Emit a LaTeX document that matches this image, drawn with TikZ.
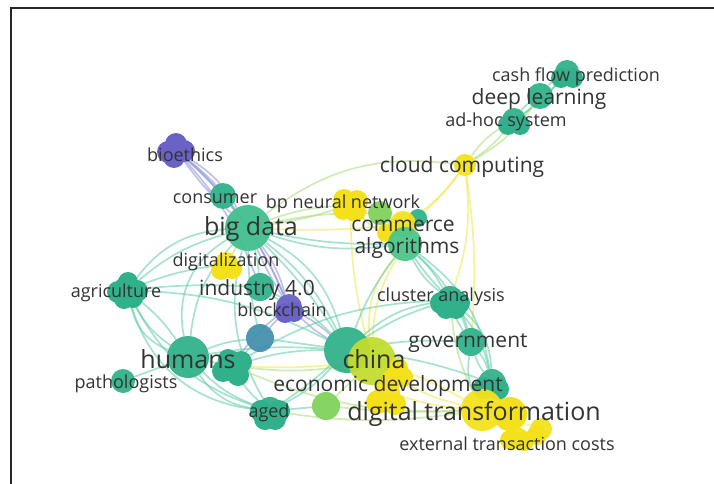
\documentclass[tikz,border=0pt]{standalone}
\usepackage{fontspec}
\setmainfont{Open Sans}
\usepackage{tikz}
\usetikzlibrary{calc,backgrounds}
\definecolor{vteal}{HTML}{31B18B}
\definecolor{vteall}{HTML}{40BF8E}
\definecolor{valgo}{HTML}{4CC58A}
\definecolor{vgreen}{HTML}{80D35C}
\definecolor{vyellow}{HTML}{F4E11C}
\definecolor{vlime}{HTML}{C2DC2E}
\definecolor{vpurple}{HTML}{6A62C6}
\definecolor{vblue}{HTML}{4690AE}
\definecolor{labtext}{HTML}{333333}
\definecolor{lteal}{HTML}{5CCBA5}
\definecolor{lyellow}{HTML}{F0E54A}
\definecolor{lgreen}{HTML}{A8DC78}
\definecolor{lpurple}{HTML}{8C90D6}
\tikzstyle{bubble} = [circle, inner sep=0pt, draw=none, fill opacity=0.95]
\tikzstyle{lab} = [text=labtext, inner sep=0pt, yshift=-2pt, font=\fontsize{18}{18}\selectfont]
\tikzstyle{labm} = [lab, font=\fontsize{21}{21}\selectfont]
\tikzstyle{labl} = [lab, font=\fontsize{25}{25}\selectfont]
\tikzstyle{link} = [line width=1.7pt, opacity=0.55]

\begin{document}
\begin{tikzpicture}[x=1pt, y=-1pt]

        \useasboundingbox (0,0) rectangle (714,484);
        \draw[line width=1.6pt, color=black!85] (11,484) -- (11,8) -- (714,8);

        %% nodes
        \node (cashflow) [bubble, fill=vteal, minimum size=24pt] at (567,72) {};
        \fill[vteal] ($(cashflow)+(-6,6)$) circle (10pt);
        \fill[vteal] ($(cashflow)+(6,6)$) circle (10pt);
        \node (deeplearn) [bubble, fill=vteal, minimum size=26pt] at (540,96) {};
        \node (adhoc) [bubble, fill=vteal, minimum size=24pt] at (514,120) {};
        \fill[vteal] ($(adhoc)+(-6,5)$) circle (10pt);
        \fill[vteal] ($(adhoc)+(6,5)$) circle (10pt);
        \node (cloud) [bubble, fill=vyellow, minimum size=22pt] at (465,165) {};

        \node (bioethics) [bubble, fill=vpurple, minimum size=26pt] at (176,150) {};
        \fill[vpurple] ($(bioethics)+(-8,2)$) circle (11pt);
        \fill[vpurple] ($(bioethics)+(8,1)$) circle (11pt);
        \fill[vpurple] ($(bioethics)+(0,-6)$) circle (11pt);
        \fill[vpurple] ($(bioethics)+(-2,7)$) circle (11pt);
        \node (consumer) [bubble, fill=vteal, minimum size=26pt] at (223,196) {};
        \node (bigdata) [bubble, fill=vteall, minimum size=46pt] at (248,228) {};

        \node (bpnn) [bubble, fill=vyellow, minimum size=24pt] at (350,205) {};
        \fill[vyellow] ($(bpnn)+(-6,-5)$) circle (11pt);
        \fill[vyellow] ($(bpnn)+(7,-4)$) circle (11pt);
        \fill[vyellow] ($(bpnn)+(5,6)$) circle (11pt);
        \fill[vyellow] ($(bpnn)+(-7,5)$) circle (10pt);
        \node (greenA) [bubble, fill=vgreen, minimum size=24pt] at (380,213) {};
        \node (tealA) [bubble, fill=vteal, minimum size=18pt] at (418,218) {};
        \node (commerce) [bubble, fill=vyellow, minimum size=26pt] at (403,224) {};
        \fill[vyellow] ($(commerce)+(-17,9)$) circle (9pt);
        \node (algorithms) [bubble, fill=valgo, minimum size=34pt] at (405,244) {};

        \node (digital) [bubble, fill=vyellow, minimum size=24pt] at (226,264) {};
        \fill[vyellow] ($(digital)+(-5,6)$) circle (10pt);
        \fill[vyellow] ($(digital)+(6,5)$) circle (10pt);
        \node (industry) [bubble, fill=vteal, minimum size=28pt] at (260,287) {};
        \node (blockchain) [bubble, fill=vpurple, minimum size=26pt] at (289,307) {};
        \fill[vpurple] ($(blockchain)+(-4,6)$) circle (10pt);
        \fill[vpurple] ($(blockchain)+(5,5)$) circle (10pt);
        \node (agriculture) [bubble, fill=vteal, minimum size=28pt] at (127,290) {};
        \fill[vteal] ($(agriculture)+(-9,2)$) circle (11pt);
        \fill[vteal] ($(agriculture)+(10,1)$) circle (11pt);
        \fill[vteal] ($(agriculture)+(-3,9)$) circle (10pt);
        \fill[vteal] ($(agriculture)+(6,8)$) circle (10pt);
        \fill[vteal] ($(agriculture)+(1,-8)$) circle (10pt);
        \node (cluster) [bubble, fill=vteal, minimum size=28pt] at (450,300) {};
        \fill[vteal] ($(cluster)+(-9,3)$) circle (11pt);
        \fill[vteal] ($(cluster)+(9,3)$) circle (11pt);
        \fill[vteal] ($(cluster)+(-4,9)$) circle (10pt);
        \fill[vteal] ($(cluster)+(6,9)$) circle (10pt);
        \node (bluenode) [bubble, fill=vblue, minimum size=28pt] at (260,338) {};
        \node (government) [bubble, fill=vteal, minimum size=28pt] at (471,342) {};

        \node (humans) [bubble, fill=vteal, minimum size=42pt] at (188,357) {};
        \node (humansB) [bubble, fill=vteal, minimum size=30pt] at (232,366) {};
        \fill[vteal] ($(humansB)+(-9,5)$) circle (11pt);
        \fill[vteal] ($(humansB)+(6,9)$) circle (11pt);
        \fill[vteal] ($(humansB)+(9,-4)$) circle (11pt);
        \fill[vteal] ($(humansB)+(-4,-7)$) circle (10pt);
        \node (pathologists) [bubble, fill=vteal, minimum size=24pt] at (123,381) {};

        \node (chinaT) [bubble, fill=vteal, minimum size=46pt] at (347,350) {};
        \node (china) [bubble, fill=vlime, minimum size=48pt] at (372,361) {};
        \fill[vyellow] ($(china)+(26,7)$) circle (10pt);
        \fill[vyellow] ($(china)+(31,16)$) circle (10pt);
        \fill[vyellow] ($(china)+(20,18)$) circle (10pt);

        \node (econdevT) [bubble, fill=vteal, minimum size=28pt] at (492,383) {};
        \fill[vteal] ($(econdevT)+(-8,5)$) circle (11pt);
        \fill[vteal] ($(econdevT)+(6,6)$) circle (11pt);
        \node (econdev) [bubble, fill=vyellow, minimum size=26pt] at (387,392) {};
        \fill[vyellow] ($(econdev)+(-9,10)$) circle (12pt);
        \fill[vyellow] ($(econdev)+(8,12)$) circle (11pt);

        \node (aged) [bubble, fill=vteal, minimum size=28pt] at (270,411) {};
        \fill[vteal] ($(aged)+(-9,0)$) circle (11pt);
        \fill[vteal] ($(aged)+(9,0)$) circle (11pt);
        \fill[vteal] ($(aged)+(-5,8)$) circle (11pt);
        \fill[vteal] ($(aged)+(5,8)$) circle (11pt);
        \node (greenB) [bubble, fill=vgreen, minimum size=28pt] at (326,406) {};

        \node (digitrans) [bubble, fill=vyellow, minimum size=42pt] at (482,410) {};
        \fill[vyellow] ($(digitrans)+(28,4)$) circle (17pt);
        \node (yellowC) [bubble, fill=vyellow, minimum size=22pt] at (541,429) {};
        \fill[vyellow] ($(yellowC)+(-4,6)$) circle (10pt);
        \node (external) [bubble, fill=vyellow, minimum size=22pt] at (517,438) {};
        \fill[vyellow] ($(external)+(-7,2)$) circle (10pt);
        \fill[vyellow] ($(external)+(7,3)$) circle (10pt);

        %% labels
        \node (Lcashflow) [lab] at (576,75) {cash flow prediction};
        \node (Ldeeplearn) [labm] at (539,97) {deep learning};
        \node (Ladhoc) [lab] at (506,120) {ad-hoc system};
        \node (Lcloud) [labm] at (462,165) {cloud computing};
        \node (Lbioethics) [lab] at (185,153) {bioethics};
        \node (Lconsumer) [lab] at (215,197) {consumer};
        \node (Lbpnn) [lab] at (343,202) {bp neural network};
        \node (Lbigdata) [labl] at (251,227) {big data};
        \node (Lcommerce) [labm] at (403,224) {commerce};
        \node (Lalgorithms) [labm] at (407,246) {algorithms};
        \node (Ldigital) [lab] at (226,260) {digitalization};
        \node (Lindustry) [labm] at (257,288) {industry 4.0};
        \node (Lagriculture) [lab] at (116,291) {agriculture};
        \node (Lblockchain) [lab] at (282,308) {blockchain};
        \node (Lcluster) [lab] at (441,295) {cluster analysis};
        \node (Lgovernment) [labm] at (468,341) {government};
        \node (Lhumans) [labl] at (188,357) {humans};
        \node (Lchina) [labl] at (374,357) {china};
        \node (Lpathologists) [lab] at (126,382) {pathologists};
        \node (Lecondev) [labm] at (388,384) {economic development};
        \node (Laged) [lab] at (269,411) {aged};
        \node (Ldigitrans) [labl] at (474,412) {digital transformation};
        \node (Lexternal) [lab] at (507,442) {external transaction costs};

        %% links
        \begin{scope}[on background layer]
        \draw[link, lgreen] (cloud) to[bend left=12] (adhoc);
        \draw[link, lgreen] (cloud) to[bend right=8] (adhoc);
        \draw[link, lteal] (adhoc) to[bend left=10] (deeplearn);
        \draw[link, lteal] (adhoc) to[bend right=10] (deeplearn);
        \draw[link, lteal] (deeplearn) to[bend left=10] (cashflow);
        \draw[link, lteal] (deeplearn) to[bend right=10] (cashflow);
        \draw[link, lteal] (adhoc) to[bend right=8] (cashflow);
        \draw[link, lgreen] (cloud) to[bend right=12] (deeplearn);
        \draw[link, lyellow] (cloud) to[bend left=10] (commerce);
        \draw[link, lyellow] (cloud) to[bend left=5] (tealA);
        \draw[link, lgreen] (bigdata) to[bend left=22] (cloud);
        \draw[link, lyellow] (cloud) to[bend left=12] (cluster);
        \draw[link, lyellow] (cloud) to[bend left=6] (government);

        \draw[link, lpurple] (bioethics) to[bend left=8] (bigdata);
        \draw[link, lpurple] (bioethics) to[bend right=6] (bigdata);
        \draw[link, lpurple] (bioethics) to[bend left=14] (bigdata);
        \draw[link, lpurple] (bioethics) to[bend left=4] (consumer);
        \draw[link, lpurple] (bioethics) to[bend left=10] (industry);
        \draw[link, lpurple] (bioethics) to[bend left=12] (blockchain);

        \draw[link, lteal] (consumer) -- (bigdata);
        \draw[link, lgreen] (bigdata) to[bend left=8] (bpnn);
        \draw[link, lgreen] (bigdata) to[bend right=4] (bpnn);
        \draw[link, lgreen] (bigdata) to[bend left=6] (greenA);
        \draw[link, lyellow] (bigdata) to[bend right=4] (commerce);
        \draw[link, lteal] (bigdata) to[bend right=6] (algorithms);
        \draw[link, lteal] (bigdata) to[bend right=12] (algorithms);
        \draw[link, lgreen] (bigdata) -- (digital);
        \draw[link, lteal] (bigdata) to[bend left=6] (industry);
        \draw[link, lpurple] (bigdata) to[bend left=10] (blockchain);
        \draw[link, lpurple] (bigdata) to[bend left=4] (blockchain);
        \draw[link, lpurple] (bigdata) to[bend right=4] (blockchain);
        \draw[link, lteal] (bigdata) to[bend right=24] (agriculture);
        \draw[link, lteal] (bigdata) to[bend right=12] (agriculture);
        \draw[link, lteal] (bigdata) to[bend right=36] (humans);
        \draw[link, lteal] (bigdata) to[bend right=18] (humans);
        \draw[link, lteal] (bigdata) to[bend left=12] (chinaT);
        \draw[link, lteal] (bigdata) to[bend left=22] (chinaT);
        \draw[link, lteal] (bigdata) to[bend left=6] (chinaT);
        \draw[link, lteal] (bigdata) to[bend right=6] (bluenode);
        \draw[link, lteal] (bigdata) to[bend right=22] (aged);

        \draw[link, lyellow] (bpnn) -- (commerce);
        \draw[link, lgreen] (bpnn) to[bend right=10] (algorithms);
        \draw[link, lyellow] (bpnn) to[bend right=6] (china);
        \draw[link, lgreen] (greenA) -- (algorithms);

        \draw[link, lteal] (algorithms) to[bend right=12] (cluster);
        \draw[link, lteal] (algorithms) to[bend right=4] (cluster);
        \draw[link, lteal] (algorithms) to[bend left=8] (cluster);
        \draw[link, lteal] (algorithms) to[bend left=14] (government);
        \draw[link, lyellow] (algorithms) to[bend right=14] (china);
        \draw[link, lyellow] (algorithms) to[bend right=22] (china);
        \draw[link, lteal] (algorithms) to[bend left=22] (econdevT);
        \draw[link, lteal] (algorithms) to[bend right=8] (chinaT);

        \draw[link, lteal] (cluster) to[bend right=8] (government);
        \draw[link, lteal] (cluster) to[bend left=12] (government);
        \draw[link, lteal] (cluster) to[bend right=8] (chinaT);
        \draw[link, lteal] (cluster) to[bend right=16] (chinaT);
        \draw[link, lteal] (cluster) to[bend left=14] (econdevT);
        \draw[link, lteal] (cluster) to[bend left=24] (econdevT);
        \draw[link, lgreen] (cluster) to[bend right=10] (digitrans);
        \draw[link, lteal] (cluster) to[bend right=14] (humansB);

        \draw[link, lteal] (government) to[bend left=10] (econdevT);
        \draw[link, lteal] (government) to[bend right=10] (econdevT);
        \draw[link, lteal] (government) to[bend right=16] (digitrans);
        \draw[link, lteal] (government) to[bend right=6] (chinaT);

        \draw[link, lteal] (chinaT) to[bend right=6] (humans);
        \draw[link, lgreen] (china) to[bend left=8] (humansB);
        \draw[link, lyellow] (china) to[bend left=4] (humansB);
        \draw[link, lteal] (chinaT) to[bend right=8] (humansB);
        \draw[link, lteal] (chinaT) to[bend left=10] (aged);
        \draw[link, lteal] (chinaT) to[bend left=4] (aged);
        \draw[link, lgreen] (china) -- (greenB);
        \draw[link, lyellow] (china) to[bend left=6] (digitrans);
        \draw[link, lyellow] (china) to[bend right=10] (digitrans);
        \draw[link, lyellow] (china) -- (econdev);
        \draw[link, lpurple] (chinaT) to[bend right=6] (blockchain);
        \draw[link, lpurple] (chinaT) to[bend left=6] (blockchain);
        \draw[link, lteal] (chinaT) -- (bluenode);
        \draw[link, lteal] (chinaT) to[bend right=10] (industry);
        \draw[link, lteal] (chinaT) to[bend left=6] (econdevT);
        \draw[link, lteal] (chinaT) to[bend right=12] (agriculture);

        \draw[link, lteal] (humans) to[bend left=14] (agriculture);
        \draw[link, lteal] (humans) to[bend right=8] (agriculture);
        \draw[link, lteal] (humans) to[bend left=28] (agriculture);
        \draw[link, lteal] (humans) -- (pathologists);
        \draw[link, lteal] (humans) to[bend right=24] (aged);
        \draw[link, lteal] (humans) to[bend right=12] (aged);
        \draw[link, lteal] (humans) to[bend left=8] (bluenode);
        \draw[link, lteal] (humans) -- (humansB);
        \draw[link, lteal] (agriculture) to[bend left=6] (digital);
        \draw[link, lteal] (agriculture) to[bend right=34] (aged);
        \draw[link, lteal] (agriculture) to[bend right=22] (aged);
        \draw[link, lteal] (agriculture) to[bend left=4] (industry);
        \draw[link, lpurple] (blockchain) -- (bluenode);
        \draw[link, lpurple] (blockchain) to[bend right=8] (humansB);
        \draw[link, lteal] (blockchain) -- (industry);
        \draw[link, lteal] (bluenode) -- (humansB);

        \draw[link, lyellow] (digitrans) -- (external);
        \draw[link, lyellow] (digitrans) -- (yellowC);
        \draw[link, lyellow] (digitrans) to[bend left=6] (econdev);
        \draw[link, lgreen] (digitrans) to[bend left=12] (humansB);
        \draw[link, lgreen] (digitrans) to[bend left=8] (aged);
        \draw[link, lgreen] (digitrans) to[bend left=4] (greenB);
        \draw[link, lteal] (econdevT) to[bend left=6] (digitrans);
        \draw[link, lteal] (econdevT) to[bend left=10] (external);
        \draw[link, lteal] (aged) -- (greenB);
        \draw[link, lteal] (aged) to[bend left=8] (humansB);
        \end{scope}

    \end{tikzpicture}
\end{document}
